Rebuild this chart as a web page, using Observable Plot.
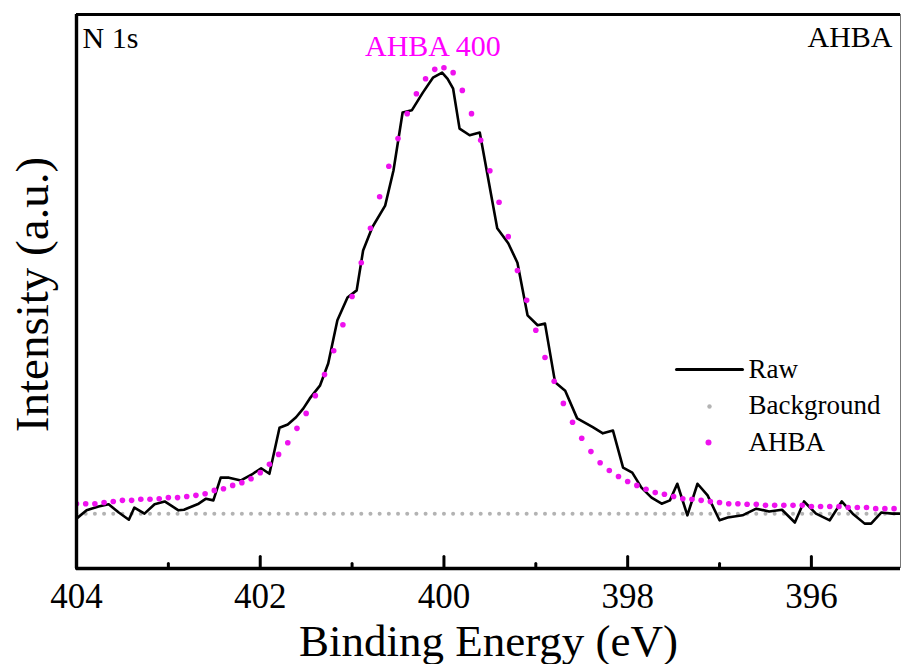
<!DOCTYPE html>
<html>
<head>
<meta charset="utf-8">
<script src="https://cdn.jsdelivr.net/npm/d3@7"></script>
<script src="https://cdn.jsdelivr.net/npm/@observablehq/plot@0.6"></script>
<style>
  html, body { margin: 0; padding: 0; background: #fff; }
  #chart { width: 901px; height: 664px; }
</style>
</head>
<body>
<div id="chart"></div>
<script>
// ---------- data ----------
const rawEnergy = [404.00, 403.89, 403.76, 403.65, 403.54, 403.43, 403.37, 403.26, 403.15, 403.04,
  402.89, 402.83, 402.67, 402.59, 402.51, 402.43, 402.34, 402.21, 402.08, 401.99,
  401.90, 401.79, 401.70, 401.61, 401.53, 401.46, 401.35, 401.26, 401.16, 401.05,
  400.95, 400.88, 400.78, 400.64, 400.55, 400.45, 400.35, 400.23, 400.12, 400.02,
  399.96, 399.90, 399.83, 399.72, 399.61, 399.42, 399.30, 399.20, 399.09, 398.98,
  398.90, 398.79, 398.68, 398.55, 398.38, 398.27, 398.16, 398.05, 397.95, 397.85,
  397.74, 397.63, 397.54, 397.46, 397.35, 397.24, 397.13, 397.00, 396.91, 396.75,
  396.60, 396.46, 396.32, 396.18, 396.08, 395.95, 395.80, 395.67, 395.55, 395.42,
  395.35, 395.24, 395.12, 395.04];
const rawIntensity = [90, 105, 112, 116, 101, 88, 110, 99, 116, 121,
  105, 106, 117, 126, 123, 164, 164, 159, 171, 181,
  171, 254, 260, 273, 289, 307, 330, 370, 448, 489,
  502, 574, 616, 655, 718, 823, 827, 859, 886, 895,
  884, 866, 794, 782, 787, 614, 587, 552, 457, 439,
  442, 336, 321, 271, 255, 244, 249, 182, 173, 146,
  128, 117, 123, 153, 96, 153, 132, 87, 92, 96,
  108, 103, 106, 83, 121, 99, 87, 121, 99, 81,
  81, 101, 99, 99];

const fitEnergy = [404.0, 403.9, 403.8, 403.7, 403.6, 403.5, 403.4, 403.3, 403.2, 403.1,
  403.0, 402.9, 402.8, 402.7, 402.6, 402.5, 402.4, 402.3, 402.2, 402.1,
  402.0, 401.9, 401.8, 401.7, 401.6, 401.5, 401.4, 401.3, 401.2, 401.1,
  401.0, 400.9, 400.8, 400.7, 400.6, 400.5, 400.4, 400.3, 400.2, 400.1,
  400.0, 399.9, 399.8, 399.7, 399.6, 399.5, 399.4, 399.3, 399.2, 399.1,
  399.0, 398.9, 398.8, 398.7, 398.6, 398.5, 398.4, 398.3, 398.2, 398.1,
  398.0, 397.9, 397.8, 397.7, 397.6, 397.5, 397.4, 397.3, 397.2, 397.1,
  397.0, 396.9, 396.8, 396.7, 396.6, 396.5, 396.4, 396.3, 396.2, 396.1,
  396.0, 395.9, 395.8, 395.7, 395.6, 395.5, 395.4, 395.3, 395.2, 395.1,
  395.0];
const ahbaFit = [117, 117, 117, 119, 121, 123, 123, 125, 125, 126,
  128, 128, 130, 132, 135, 141, 144, 150, 155, 162,
  173, 188, 206, 227, 253, 280, 312, 350, 393, 440,
  491, 552, 614, 671, 726, 776, 821, 857, 884, 901,
  904, 895, 863, 821, 773, 718, 661, 599, 538, 484,
  430, 381, 338, 298, 264, 235, 211, 191, 177, 166,
  157, 150, 143, 137, 134, 130, 126, 125, 123, 121,
  119, 117, 117, 116, 116, 114, 114, 114, 114, 114,
  112, 112, 112, 112, 110, 110, 110, 108, 108, 108,
  106];
const background = [99, 99, 99, 99, 99, 99, 99, 99, 99, 99,
  99, 99, 99, 99, 99, 99, 99, 99, 99, 99,
  99, 99, 99, 99, 99, 99, 99, 99, 99, 99,
  99, 99, 99, 99, 99, 99, 99, 99, 99, 99,
  99, 99, 99, 99, 99, 99, 99, 99, 99, 99,
  99, 99, 99, 99, 99, 99, 99, 99, 99, 99,
  99, 99, 99, 99, 99, 99, 99, 99, 99, 99,
  99, 99, 99, 99, 99, 99, 99, 99, 99, 99,
  99, 99, 99, 99, 99, 99, 99, 99, 99, 99,
  99];

const majorTicks = [404, 402, 400, 398, 396];
const minorTicks = [403, 401, 399, 397, 395];
const peakLabel = "AHBA 400";
const peakPosition = 400;
const legendLabels = ["Raw", "Background", "AHBA"];

// ---------- tables ----------
const rawData = rawEnergy.map((e, i) => ({e, v: rawIntensity[i]}));
const fitData = fitEnergy.map((e, i) => ({e, fit: ahbaFit[i], bg: background[i]}));

// ---------- style ----------
const serif = "'Liberation Serif', 'Times New Roman', Times, serif";
const xDomain = [404, 395.03];
const yDomain = [0, 1000];
const magenta = "#ee11ee";
const grey = "#b3b3b3";
const lineShape = {draw(ctx, l) { ctx.moveTo(0, 0); ctx.lineTo(0, -l); }};

const chart = Plot.plot({
  width: 901,
  height: 664,
  marginLeft: 76,
  marginRight: 1,
  marginTop: 14,
  marginBottom: 96,
  style: {fontFamily: serif, background: "#fff", color: "#000"},
  x: {domain: xDomain, axis: null},
  y: {domain: yDomain, axis: null},
  marks: [
    // background + fit + raw
    Plot.dot(fitData, {x: "e", y: "bg", r: 2, fill: grey, stroke: "none", clip: true}),
    Plot.line(rawData, {x: "e", y: "v", stroke: "#000", strokeWidth: 2.6, strokeLinejoin: "round", clip: true}),
    Plot.dot(fitData, {x: "e", y: "fit", r: 2.8, fill: magenta, stroke: "none", clip: true}),

    // frame
    Plot.ruleX([xDomain[1]], {stroke: "#777", strokeWidth: 1}),
    Plot.ruleY([yDomain[1]], {stroke: "#000", strokeWidth: 3.2}),
    Plot.ruleX([xDomain[0]], {stroke: "#000", strokeWidth: 3.4}),
    Plot.ruleY([yDomain[0]], {stroke: "#000", strokeWidth: 3.4}),

    // inward ticks
    Plot.vector(majorTicks, {x: d => d, frameAnchor: "bottom", length: 12, anchor: "start", shape: lineShape, stroke: "#000", strokeWidth: 3}),
    Plot.vector(minorTicks, {x: d => d, frameAnchor: "bottom", length: 5, anchor: "start", shape: lineShape, stroke: "#000", strokeWidth: 3}),

    // tick labels
    Plot.text(majorTicks, {x: d => d, text: d => `${d}`, frameAnchor: "bottom", textAnchor: "middle", lineAnchor: "bottom", dy: 39, fontSize: 35, fill: "#000"}),

    // axis titles
    Plot.text(["Binding Energy (eV)"], {text: d => d, frameAnchor: "bottom", textAnchor: "middle", lineAnchor: "bottom", dy: 87, fontSize: 45, fill: "#000"}),
    Plot.text(["Intensity (a.u.)"], {text: d => d, frameAnchor: "left", textAnchor: "middle", lineAnchor: "bottom", rotate: -90, dx: -29, dy: 3, fontSize: 47, fill: "#000"}),

    // corner labels
    Plot.text(["N 1s"], {text: d => d, frameAnchor: "top-left", textAnchor: "start", lineAnchor: "bottom", dx: 6, dy: 33, fontSize: 30, fill: "#000"}),
    Plot.text(["AHBA"], {text: d => d, frameAnchor: "top-right", textAnchor: "end", lineAnchor: "bottom", dx: -8, dy: 32, fontSize: 30, fill: "#000"}),

    // peak label
    Plot.text([peakLabel], {x: peakPosition, text: d => d, frameAnchor: "top", textAnchor: "middle", lineAnchor: "bottom", dx: -11, dy: 41, fontSize: 30, fill: "#ff00ff"}),

    // legend
    Plot.vector([legendLabels[0]], {frameAnchor: "top-right", dx: -191, dy: 355, rotate: 90, length: 66, anchor: "middle", shape: lineShape, stroke: "#000", strokeWidth: 3}),
    Plot.dot([legendLabels[1]], {frameAnchor: "top-right", dx: -191, dy: 392, r: 2.2, fill: grey}),
    Plot.dot([legendLabels[2]], {frameAnchor: "top-right", dx: -192, dy: 428, r: 3, fill: magenta}),
    Plot.text([legendLabels[0]], {text: d => d, frameAnchor: "top-right", textAnchor: "start", lineAnchor: "bottom", dx: -152, dy: 363, fontSize: 27, fill: "#000"}),
    Plot.text([legendLabels[1]], {text: d => d, frameAnchor: "top-right", textAnchor: "start", lineAnchor: "bottom", dx: -152, dy: 399, fontSize: 27, fill: "#000"}),
    Plot.text([legendLabels[2]], {text: d => d, frameAnchor: "top-right", textAnchor: "start", lineAnchor: "bottom", dx: -152, dy: 436, fontSize: 27, fill: "#000", letterSpacing: "1.5px"})
  ]
});

document.getElementById("chart").appendChild(chart);
</script>
</body>
</html>
